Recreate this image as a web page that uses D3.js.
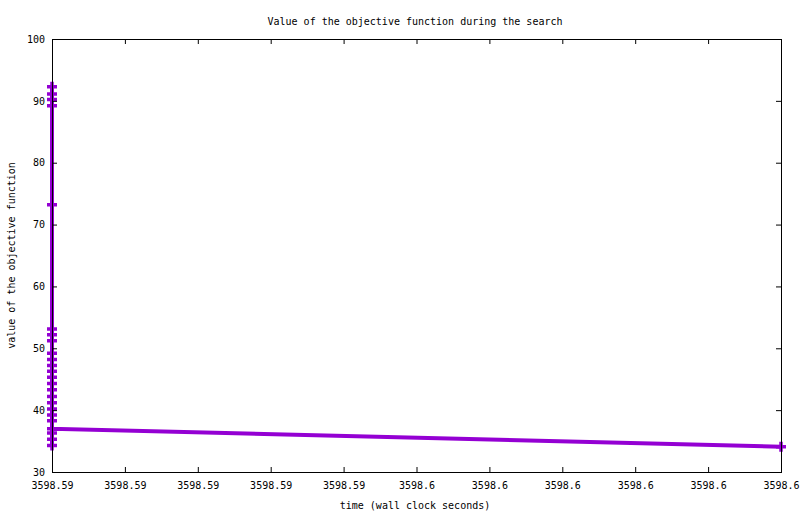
<!DOCTYPE html>
<html>
<head>
<meta charset="utf-8">
<script src="https://cdn.jsdelivr.net/npm/d3@7"></script>
<style>
  body { margin: 0; background: #fff; }
  text { font-family: "DejaVu Sans Mono", "Liberation Mono", monospace; font-size: 10px; fill: #000; }
</style>
</head>
<body>
<svg width="800" height="514"></svg>
<script>
// DATA
const times = [
  3598.590, 3598.590, 3598.590, 3598.590, 3598.590,
  3598.590, 3598.590, 3598.590, 3598.590, 3598.590,
  3598.590, 3598.590, 3598.590, 3598.590, 3598.590,
  3598.590, 3598.590, 3598.590, 3598.590, 3598.590,
  3598.590, 3598.590, 3598.590, 3598.590, 3598.600
];
const values = [
  92.3, 91.1, 90.2, 89.2, 73.2,
  53.1, 52.2, 51.2, 49.2, 48.2,
  47.2, 46.3, 45.3, 44.3, 43.3,
  42.2, 41.2, 40.2, 39.2, 38.3,
  36.3, 35.3, 34.3, 37.0, 34.1
];
const xTicks = [3598.590, 3598.591, 3598.592, 3598.593, 3598.594, 3598.595,
                3598.596, 3598.597, 3598.598, 3598.599, 3598.600];
const xTickLabels = ["3598.59", "3598.59", "3598.59", "3598.59", "3598.59",
                     "3598.6", "3598.6", "3598.6", "3598.6", "3598.6", "3598.6"];
const yTicks = [30, 40, 50, 60, 70, 80, 90, 100];

const svg = d3.select("svg");
const plotLeft = 52, plotRight = 781, plotTop = 39, plotBottom = 472;

// SCALE
const x = d3.scaleLinear().domain([3598.590, 3598.600]).range([plotLeft, plotRight]);
const y = d3.scaleLinear().domain([30, 100]).range([plotBottom, plotTop]);

const points = times.map((t, i) => ({ t: t, v: values[i] }));

// SERIES
const line = d3.line().x(d => x(d.t)).y(d => y(d.v));
svg.append("path")
  .datum(points)
  .attr("fill", "none")
  .attr("stroke", "#9400d3")
  .attr("stroke-width", 4)
  .attr("d", line);

svg.selectAll("path.pt")
  .data(points)
  .enter()
  .append("path")
  .attr("class", "pt")
  .attr("transform", d => `translate(${x(d.t)},${y(d.v)})`)
  .attr("d", "M-5,0H5M0,-5V5")
  .attr("stroke", "#9400d3")
  .attr("stroke-width", 3.5)
  .attr("fill", "none");

// AXES (inward ticks, mirrored)
const fmtX = (d, i) => xTickLabels[i];

svg.append("g")
  .attr("transform", `translate(0,${plotBottom})`)
  .call(d3.axisBottom(x).tickValues(xTicks).tickFormat(fmtX).tickSize(-5).tickPadding(10))
  .call(g => g.select(".domain").remove());

svg.append("g")
  .attr("transform", `translate(0,${plotTop})`)
  .call(d3.axisTop(x).tickValues(xTicks).tickFormat("").tickSize(-5))
  .call(g => g.select(".domain").remove());

svg.append("g")
  .attr("transform", `translate(${plotLeft},0)`)
  .call(d3.axisLeft(y).tickValues(yTicks).tickSize(-5).tickPadding(7))
  .call(g => g.select(".domain").remove());

svg.append("g")
  .attr("transform", `translate(${plotRight},0)`)
  .call(d3.axisRight(y).tickValues(yTicks).tickFormat("").tickSize(-5))
  .call(g => g.select(".domain").remove());

svg.selectAll(".tick text")
  .attr("font-family", null)
  .attr("font-size", null);

// FRAME
svg.append("rect")
  .attr("x", plotLeft + 0.5)
  .attr("y", plotTop + 0.5)
  .attr("width", plotRight - plotLeft)
  .attr("height", plotBottom - plotTop)
  .attr("fill", "none")
  .attr("stroke", "#000")
  .attr("stroke-width", 1);

// LABELS
svg.append("text")
  .attr("x", 415)
  .attr("y", 21)
  .attr("dy", "0.35em")
  .attr("text-anchor", "middle")
  .text("Value of the objective function during the search");

svg.append("text")
  .attr("x", 415)
  .attr("y", 505)
  .attr("dy", "0.35em")
  .attr("text-anchor", "middle")
  .text("time (wall clock seconds)");

svg.append("text")
  .attr("transform", `translate(11,${(plotTop + plotBottom) / 2}) rotate(-90)`)
  .attr("dy", "0.35em")
  .attr("text-anchor", "middle")
  .text("value of the objective function");
</script>
</body>
</html>
